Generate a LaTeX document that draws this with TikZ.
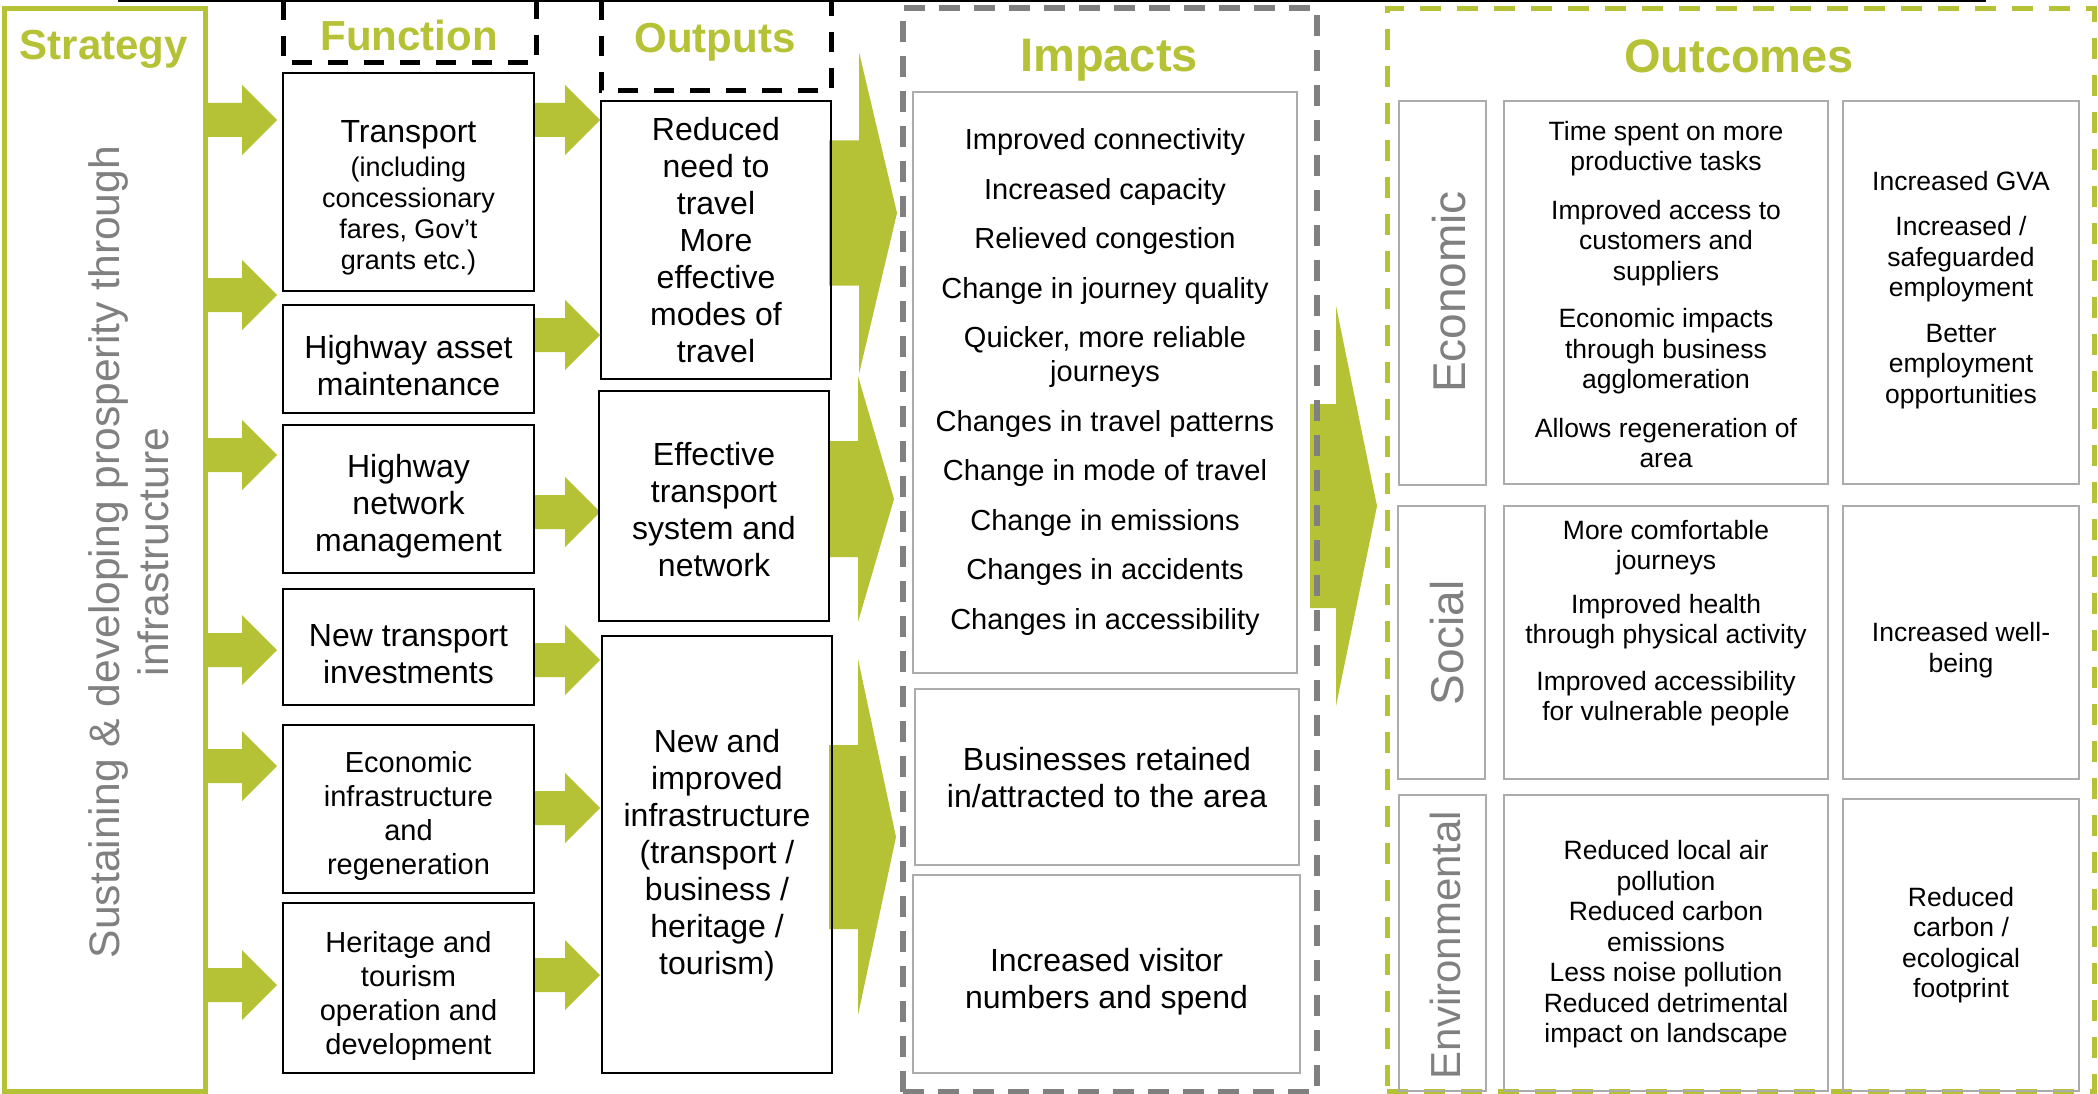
\documentclass[tikz,border=0pt]{standalone}
\usepackage{fontspec}
\setmainfont{Liberation Sans}
\definecolor{ggreen}{RGB}{181,194,53}
\definecolor{ggrey}{RGB}{128,128,128}
\definecolor{lgrey}{RGB}{172,172,172}
\newcommand\garr[6]{\fill[ggreen] (#1,{#4-#5}) -- (#2,{#4-#5}) -- (#2,{#4-#6}) -- (#3,#4) -- (#2,{#4+#6}) -- (#2,{#4+#5}) -- (#1,{#4+#5}) -- cycle;}
\begin{document}
\begin{tikzpicture}[x=1pt,y=-1pt,
  fbox/.style={draw=black,line width=2pt,inner sep=0pt},
  gbox/.style={draw=lgrey,line width=2pt,inner sep=0pt},
  tA/.style={align=center,inner sep=0pt,font=\fontsize{32}{37}\selectfont},
  tB/.style={align=center,inner sep=0pt,font=\fontsize{29}{33.7}\selectfont},
  tS/.style={align=center,inner sep=0pt,font=\fontsize{27}{30.7}\selectfont},
  tI/.style={align=center,inner sep=0pt,font=\fontsize{29}{34}\selectfont},
  tO/.style={align=center,inner sep=0pt,font=\fontsize{26.5}{30.5}\selectfont},
  ttl/.style={inner sep=0pt,text=ggreen,font=\fontsize{42}{50}\selectfont\bfseries},
  ttlb/.style={inner sep=0pt,text=ggreen,font=\fontsize{47}{56}\selectfont\bfseries},
  rot/.style={inner sep=0pt,rotate=90,text=ggrey,align=center}]
\useasboundingbox (0,0) rectangle (2098,1094);
\clip (0,0) rectangle (2098,1094);
\fill[white] (0,0) rectangle (2098,1094);

% top thin line
\coordinate (tl) at (118,1);
\coordinate (tr) at (1986,1);
\draw[line width=2pt] (tl) -- (tr);

% arrows
\foreach \y in {120,295,455,650,766,985} {\garr{205}{242}{277}{\y}{17}{35}}
\foreach \y in {120,335,512,660,808,975} {\garr{534}{565}{600}{\y}{17}{35}}
\garr{829}{859}{897}{213}{72.5}{161}
\garr{829}{858}{894}{499}{58}{123}
\garr{829}{858}{896}{837}{92}{178}
\garr{1310}{1336}{1377}{506}{102}{200}

% strategy
\node[draw=ggreen,line width=5pt,inner sep=0pt,minimum width=201pt,minimum height=1082pt] (strat) at (104.5,550) {};
\node[ttl] (strt) at (104,49) {Strategy};
\node[rot,font=\fontsize{42.6}{49}\selectfont] (stxt) at (129,552) {Sustaining \& developing prosperity through\\infrastructure};

% headers
\draw[line width=5pt,dash pattern=on 20pt off 16pt] (283,0) rectangle (536,63);
\node[ttl] (funt) at (409,35) {Function};
\draw[line width=5pt,dash pattern=on 20pt off 16pt] (601,0) rectangle (831,91);
\node[ttl] (outt) at (715,42) {Outputs};

% function boxes
\node[fbox,minimum width=251pt,minimum height=218pt] (f1) at (408.5,182) {};
\node[tA] (f1a) at (408.5,135) {Transport};
\node[tS] (f1b) at (408.5,216) {(including\\concessionary\\fares, Gov't\\grants etc.)};
\node[fbox,minimum width=251pt,minimum height=108pt] (f2) at (408.5,359) {};
\node[tA] at (408.5,366) {Highway asset\\maintenance};
\node[fbox,minimum width=251pt,minimum height=148pt] (f3) at (408.5,499) {};
\node[tA] at (408.5,506) {Highway\\network\\management};
\node[fbox,minimum width=251pt,minimum height=116pt] (f4) at (408.5,647) {};
\node[tA] at (408.5,654) {New transport\\investments};
\node[fbox,minimum width=251pt,minimum height=168pt] (f5) at (408.5,809) {};
\node[tB] at (408.5,816) {Economic\\infrastructure\\and\\regeneration};
\node[fbox,minimum width=251pt,minimum height=170pt] (f6) at (408.5,988) {};
\node[tB] at (408.5,996) {Heritage and\\tourism\\operation and\\development};

% output boxes
\node[fbox,minimum width=230pt,minimum height=278pt] (o1) at (716,240) {};
\node[tA] at (716,240) {Reduced\\need to\\travel\\More\\effective\\modes of\\travel};
\node[fbox,minimum width=230pt,minimum height=230pt] (o2) at (714,506) {};
\node[tA] at (714,510) {Effective\\transport\\system and\\network};
\node[fbox,minimum width=230pt,minimum height=437pt] (o3) at (717,854.5) {};
\node[tA] at (717,855) {New and\\improved\\infrastructure\\(transport /\\business /\\heritage /\\tourism)};

% impacts
\node[draw=ggrey,line width=5.5pt,dash pattern=on 21pt off 14pt,inner sep=0pt,minimum width=414pt,minimum height=1084pt] (imp) at (1110,550) {};
\node[ttlb] (impt) at (1109,60) {Impacts};
\node[gbox,minimum width=384pt,minimum height=581pt] (i1) at (1105,382.5) {};
\node[tI] at (1105,382) {Improved connectivity\\[15.5pt]Increased capacity\\[15.5pt]Relieved congestion\\[15.5pt]Change in journey quality\\[15.5pt]Quicker, more reliable\\journeys\\[15.5pt]Changes in travel patterns\\[15.5pt]Change in mode of travel\\[15.5pt]Change in emissions\\[15.5pt]Changes in accidents\\[15.5pt]Changes in accessibility};
\node[gbox,minimum width=384pt,minimum height=176pt] (i2) at (1107,777) {};
\node[tA] at (1107,778) {Businesses retained\\in/attracted to the area};
\node[gbox,minimum width=387pt,minimum height=198pt] (i3) at (1106.5,974) {};
\node[tA] at (1106.5,982) {Increased visitor\\numbers and spend};

% outcomes
\node[draw=ggreen,line width=5pt,dash pattern=on 21pt off 16pt,inner sep=0pt,minimum width=707pt,minimum height=1082pt] (outc) at (1740.5,550) {};
\node[ttlb] (outct) at (1739,56) {Outcomes};

\node[gbox,minimum width=87pt,minimum height=384pt] (ecl) at (1442.5,293) {};
\node[rot,font=\fontsize{46}{50}\selectfont] at (1449,292) {Economic};
\node[gbox,minimum width=324pt,minimum height=383pt] (ecm) at (1666,292.5) {};
\node[tO] at (1666,294.5) {Time spent on more\\productive tasks\\[18pt]Improved access to\\customers and\\suppliers\\[17pt]Economic impacts\\through business\\agglomeration\\[18pt]Allows regeneration of\\area};
\node[gbox,minimum width=236pt,minimum height=383pt] (ecr) at (1961,292.5) {};
\node[tO] at (1961,290) {Increased GVA\\[15pt]Increased /\\safeguarded\\employment\\[15pt]Better\\employment\\opportunities};

\node[gbox,minimum width=87pt,minimum height=273pt] (sol) at (1441.5,642.5) {};
\node[rot,font=\fontsize{46}{50}\selectfont] at (1447,643) {Social};
\node[gbox,minimum width=324pt,minimum height=273pt] (som) at (1666,642.5) {};
\node[tO] at (1666,623) {More comfortable\\journeys\\[13pt]Improved health\\through physical activity\\[16pt]Improved accessibility\\for vulnerable people};
\node[gbox,minimum width=236pt,minimum height=273pt] (sor) at (1961,642.5) {};
\node[tO] at (1961,650) {Increased well-\\being};

\node[gbox,minimum width=87pt,minimum height=296pt] (enl) at (1442.5,943) {};
\node[rot,font=\fontsize{42}{46}\selectfont] at (1445,945) {Environmental};
\node[gbox,minimum width=324pt,minimum height=296pt] (enm) at (1666,943) {};
\node[tO] at (1666,944.5) {Reduced local air\\pollution\\Reduced carbon\\emissions\\Less noise pollution\\Reduced detrimental\\impact on landscape};
\node[gbox,minimum width=236pt,minimum height=292pt] (enr) at (1961,945) {};
\node[tO] at (1961,945) {Reduced\\carbon /\\ecological\\footprint};
\end{tikzpicture}
\end{document}
